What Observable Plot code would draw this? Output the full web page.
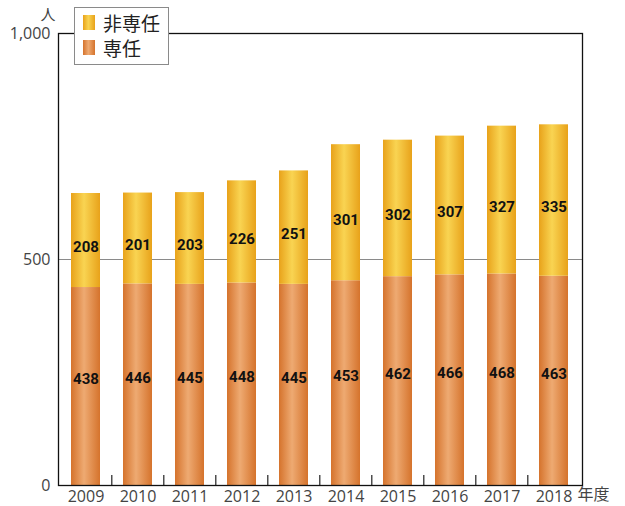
<!DOCTYPE html>
<html><head><meta charset="utf-8">
<script src="https://cdn.jsdelivr.net/npm/d3@7"></script>
<script src="https://cdn.jsdelivr.net/npm/@observablehq/plot@0.6"></script>
<style>
html,body{margin:0;padding:0;background:#fff;}
#wrap{position:relative;width:625px;height:506px;}
#legend{position:absolute;left:74px;top:7px;width:93px;height:56px;background:#fff;border:1px solid #8a8a8a;font-family:"Noto Sans CJK JP","Noto Sans",sans-serif;font-size:19px;color:#222;}
#legend .it{position:absolute;left:8px;display:flex;align-items:center;}
#legend .sw{width:12px;height:15px;margin-right:8px;}
</style></head>
<body><div id="wrap"><div id="legend"></div></div>
<script>
const years = ["2009","2010","2011","2012","2013","2014","2015","2016","2017","2018"];
const senin = [438,446,445,448,445,453,462,466,468,463];
const hisenin = [208,201,203,226,251,301,302,307,327,335];
const yTicks = [0,500,1000];
const seriesNames = ["非専任","専任"];

const W = 625, H = 506, mL = 58, mR = 43, mT = 33, mB = 21;
const step = (W - mL - mR) / years.length;
const plotH = H - mT - mB;

const rows = years.map((y,i)=>({year:y, s:senin[i], h:hisenin[i]}));

const defs = () => {
  const g = d3.create("svg:defs");
  const mk = (id, edge, mid) => {
    const lg = g.append("linearGradient").attr("id", id).attr("x1","0").attr("x2","1").attr("y1","0").attr("y2","0");
    lg.append("stop").attr("offset","0").attr("stop-color", edge);
    lg.append("stop").attr("offset","0.45").attr("stop-color", mid);
    lg.append("stop").attr("offset","1").attr("stop-color", edge);
  };
  mk("gOrange", "#d5732c", "#eeaa72");
  mk("gYellow", "#e8a21a", "#f9d452");
  return g.node();
};

const labelFont = "'Roboto','Liberation Sans',sans-serif";
const chart = Plot.plot({
  width: W, height: H,
  marginLeft: mL, marginRight: mR, marginTop: mT, marginBottom: mB,
  style: {fontFamily: "'Open Sans', sans-serif", fontSize: "16px", color: "#444", background: "transparent"},
  x: {domain: years, paddingInner: 0.44, paddingOuter: 0.22, label: null, tickSize: 0, tickPadding: 5},
  y: {domain: [0,1000], ticks: yTicks, tickFormat: d3.format(","), label: null, tickSize: 0, tickPadding: 8},
  marks: [
    defs,
    Plot.ruleY([500], {stroke: "#8a8a8a", strokeWidth: 1.2}),
    Plot.barY(rows, {x: "year", y: "s", fill: "url(#gOrange)"}),
    Plot.barY(rows, {x: "year", y1: "s", y2: d => d.s + d.h, fill: "url(#gYellow)"}),
    Plot.text(rows, {x: "year", y: d => d.s / 2, text: d => String(d.s), dy: -7,
      fontSize: 15, fontWeight: "bold", fill: "#111", fontFamily: labelFont}),
    Plot.text(rows, {x: "year", y: d => d.s + d.h / 2, text: d => String(d.h), dy: 7,
      fontSize: 15, fontWeight: "bold", fill: "#111", fontFamily: labelFont}),
    Plot.ruleX(years.slice(1), {x: d => d, dx: -step/2, insetTop: plotH - 10, stroke: "#222", strokeWidth: 1.2}),
    Plot.frame({stroke: "#111", strokeWidth: 1.3}),
    Plot.text(["人"], {frameAnchor: "top-left", dx: -18, dy: -14, lineAnchor: "bottom", fontSize: 15, fill: "#444", fontFamily: "'Noto Sans CJK JP',sans-serif"}),
    Plot.text(["年度"], {frameAnchor: "bottom-right", textAnchor: "start", dx: -5, dy: 14, fontSize: 16, fill: "#444", fontFamily: "'Noto Sans CJK JP',sans-serif"})
  ]
});
document.getElementById("wrap").prepend(chart);

const legend = document.getElementById("legend");
const grads = {"非専任": "linear-gradient(90deg,#e8a21a,#f9d452 45%,#e8a21a)", "専任": "linear-gradient(90deg,#d5732c,#eeaa72 45%,#d5732c)"};
seriesNames.forEach((n,i)=>{
  const it = document.createElement("div");
  it.className = "it";
  it.style.top = (i === 0 ? 1 : 26) + "px";
  it.innerHTML = `<div class="sw" style="background:${grads[n]}"></div><span>${n}</span>`;
  legend.appendChild(it);
});
</script></body></html>
